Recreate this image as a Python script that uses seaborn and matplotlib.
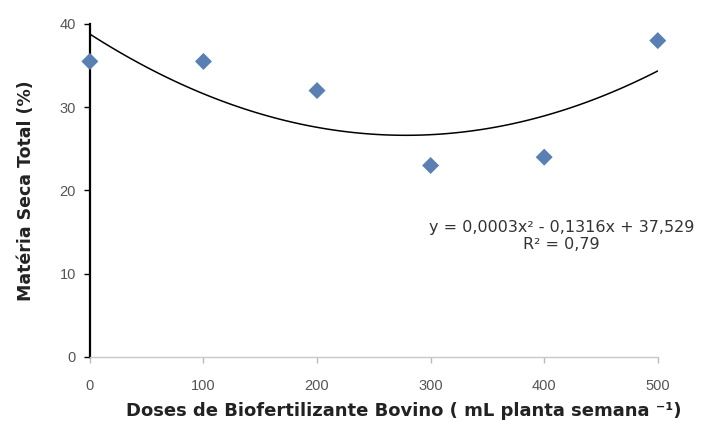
import matplotlib
matplotlib.use("Agg")
import matplotlib.pyplot as plt
import numpy as np
import pandas as pd
import seaborn as sns

# data
doses = [0, 100, 200, 300, 400, 500]
materia_seca = [35.5, 35.5, 32.0, 23.0, 24.0, 38.0]
x_ticks = [0, 100, 200, 300, 400, 500]
y_ticks = [0, 10, 20, 30, 40]
equation = "y = 0,0003x² - 0,1316x + 37,529\nR² = 0,79"

df = pd.DataFrame({'dose': doses, 'ms': materia_seca})

sns.set_theme(style="white")
plt.rcParams['font.family'] = ['Liberation Sans', 'DejaVu Sans']

fig, ax = plt.subplots(figsize=(7.02, 4.28), dpi=100)
fig.subplots_adjust(left=0.128, right=0.937, bottom=0.166, top=0.944)

# polynomial trend line (order 2)
sns.regplot(data=df, x='dose', y='ms', order=2, ci=None, scatter=False,
            truncate=True, line_kws={'color': 'black', 'lw': 1.1}, ax=ax)
sns.scatterplot(data=df, x='dose', y='ms', marker='D', s=75, color='#5A7FB3',
                edgecolor='none', clip_on=False, zorder=5, ax=ax)

ax.set_xlim(0, 500)
ax.set_ylim(0, 40)
ax.set_xticks(x_ticks)
ax.set_yticks(y_ticks)
ax.tick_params(axis='both', labelsize=10.5, labelcolor='#555555', direction='out',
               left=True, bottom=True)
ax.tick_params(axis='y', length=4, width=1, color='black', pad=6)
ax.tick_params(axis='x', length=4, width=1, color='#bbbbbb', pad=12)

for s in ['top', 'right']:
    ax.spines[s].set_visible(False)
ax.spines['left'].set_color('black')
ax.spines['left'].set_linewidth(1.6)
ax.spines['bottom'].set_color('#c8c8c8')
ax.spines['bottom'].set_linewidth(1.0)

ax.set_xlabel("Doses de Biofertilizante Bovino ( mL planta semana ⁻¹)",
              fontsize=13, fontweight='bold', color='#222222',
              family='DejaVu Sans')
ax.xaxis.set_label_coords(0.553, -0.135)
ax.xaxis.label.set_va('top')
ax.set_ylabel("Matéria Seca Total (%)", fontsize=12.5, fontweight='bold',
              color='#222222', labelpad=18, family='DejaVu Sans')

ax.text(415, 14.5, equation, ha='center', va='center', fontsize=11.5,
        color='#333333', linespacing=1.2, family='DejaVu Sans')

fig.savefig("out.png", dpi=100)
